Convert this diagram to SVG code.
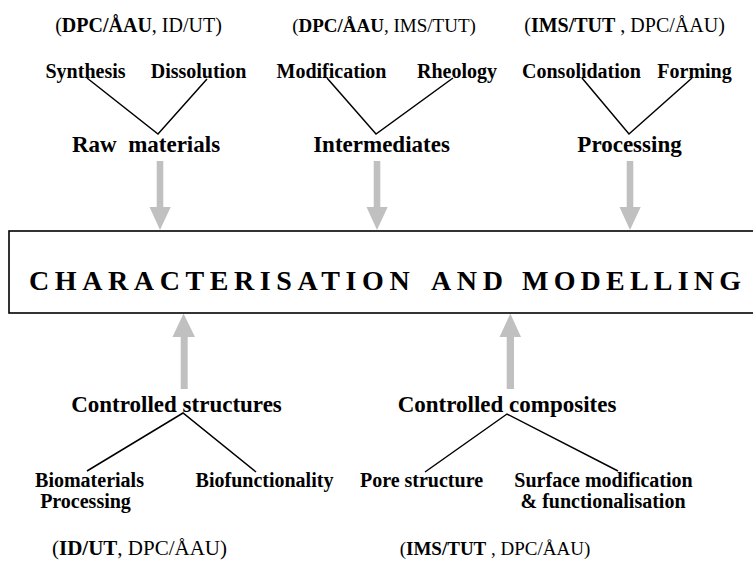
<svg xmlns="http://www.w3.org/2000/svg" width="753" height="561" viewBox="0 0 753 561">
<style>
text{font-family:"Liberation Serif","Times New Roman",serif;fill:#000;text-anchor:middle}
.org{font-size:20px}
.b{font-weight:bold}
.sub{font-size:20px;font-weight:bold}
.main{font-size:23px;font-weight:bold}
.title{font-size:28px;font-weight:bold;letter-spacing:5.6px;text-anchor:start}
.ln{fill:none;stroke:#000;stroke-width:1.5}
.arr{fill:#c0c0c0}
.box{fill:#fff;stroke:#000;stroke-width:1.6}
</style>
<rect width="753" height="561" fill="#fff"/>
<g id="connectors">
<polyline class="ln" points="87,78 158,134 207,79"/>
<polyline class="ln" points="327,78 376,134 453,78"/>
<polyline class="ln" points="582,78 629,134 692,78"/>
<polyline class="ln" points="87,471 183,413 256,472"/>
<polyline class="ln" points="425,472 507,414 618,471"/>
<path class="arr" d="M156.7,161 H163.3 V207 H170.7 L160,230 L149.5,207 H156.7 Z"/>
<path class="arr" d="M373.7,161 H380.3 V207 H387.7 L377,230 L366.5,207 H373.7 Z"/>
<path class="arr" d="M626.7,161 H633.3 V207 H640.7 L630,230 L619.5,207 H626.7 Z"/>
<path class="arr" d="M180.7,389 H187.7 V337 H195 L183.5,313.5 L172.5,337 H180.7 Z"/>
<path class="arr" d="M506.7,389 H514 V337 H521 L510.3,313.5 L499.5,337 H506.7 Z"/>
</g>
<g id="raw-materials">
<text class="org" x="138.5" y="32">(<tspan class="b">DPC/ÅAU</tspan>, ID/UT)</text>
<text class="sub" x="85.5" y="78">Synthesis</text>
<text class="sub" x="198.5" y="78">Dissolution</text>
<text class="main" x="146" y="152">Raw&#160; materials</text>
</g>
<g id="intermediates">
<text class="org" x="384" y="32" style="font-size:19px">(<tspan class="b">DPC/ÅAU</tspan>, IMS/TUT)</text>
<text class="sub" x="331.5" y="78">Modification</text>
<text class="sub" x="457" y="78">Rheology</text>
<text class="main" x="381.5" y="152">Intermediates</text>
</g>
<g id="processing">
<text class="org" x="624.5" y="32">(<tspan class="b">IMS/TUT</tspan> , DPC/ÅAU)</text>
<text class="sub" x="581.5" y="78">Consolidation</text>
<text class="sub" x="694.5" y="78">Forming</text>
<text class="main" x="629.5" y="152">Processing</text>
</g>
<g id="characterisation">
<rect class="box" x="9" y="231" width="760" height="82"/>
<text class="title" x="29" y="290">CHARACTERISATION <tspan x="431">AND</tspan> <tspan x="522" style="letter-spacing:5.2px">MODELLING</tspan></text>
</g>
<g id="controlled-structures">
<text class="main" x="176.5" y="412">Controlled structures</text>
<text class="sub" x="89.5" y="487">Biomaterials</text>
<text class="sub" x="85.5" y="508">Processing</text>
<text class="sub" x="264.5" y="487">Biofunctionality</text>
<text class="org" x="139.5" y="555" style="font-size:21px">(<tspan class="b">ID/UT</tspan>, DPC/ÅAU)</text>
</g>
<g id="controlled-composites">
<text class="main" x="507" y="412">Controlled composites</text>
<text class="sub" x="421.5" y="487">Pore structure</text>
<text class="sub" x="603.5" y="487">Surface modification</text>
<text class="sub" x="603" y="508">&amp; functionalisation</text>
<text class="org" x="495" y="555" style="font-size:19px">(<tspan class="b">IMS/TUT</tspan> , DPC/ÅAU)</text>
</g>
</svg>
